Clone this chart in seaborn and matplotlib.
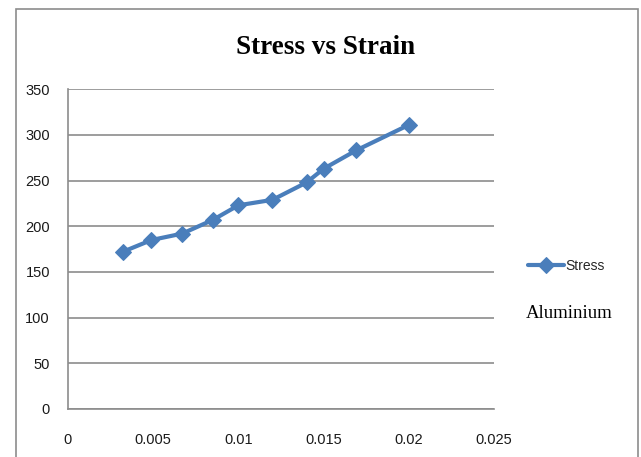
import numpy as np
import pandas as pd
import matplotlib
matplotlib.use("Agg")
import matplotlib.pyplot as plt
import seaborn as sns
from matplotlib.patches import Rectangle

# values
strain = [0.0032, 0.0049, 0.0067, 0.0085, 0.0100, 0.0120, 0.0140, 0.0150, 0.0169, 0.0200]
stress = [172, 185, 192, 207, 223, 229, 248, 263, 283, 311]
x_ticks = [0, 0.005, 0.01, 0.015, 0.02, 0.025]
x_tick_labels = ["0", "0.005", "0.01", "0.015", "0.02", "0.025"]
y_ticks = [0, 50, 100, 150, 200, 250, 300, 350]

def main():
    sns.set_style("white")
    plt.rcParams["font.family"] = ["Liberation Sans", "DejaVu Sans"]

    df = pd.DataFrame({"Strain": strain, "Stress": stress})

    W, H = 641, 457
    fig = plt.figure(figsize=(W / 100, H / 100), dpi=100)
    ax = fig.add_axes([68 / W, 1 - 409 / H, (494 - 68) / W, (409 - 89.3) / H])

    blue = "#4A7EBB"
    sns.lineplot(data=df, x="Strain", y="Stress", ax=ax, color=blue, linewidth=3,
                 marker="D", markersize=8.5, markeredgecolor=blue, label="Stress",
                 legend=False)

    ax.set_xlim(0, 0.025)
    ax.set_ylim(0, 350)
    ax.set_xticks(x_ticks)
    ax.set_xticklabels(x_tick_labels)
    ax.set_yticks(y_ticks)
    ax.set_xlabel("")
    ax.set_ylabel("")

    grid_col = "#8C8C8C"
    ax.grid(axis="y", color=grid_col, linewidth=1.2)
    ax.set_axisbelow(True)
    for side in ["top", "right"]:
        ax.spines[side].set_visible(False)
    for side in ["left", "bottom"]:
        ax.spines[side].set_color(grid_col)
        ax.spines[side].set_linewidth(1.2)
    ax.tick_params(axis="both", direction="out", length=5, width=1.2, color=grid_col,
                   labelsize=10.5, labelcolor="#1a1a1a")
    ax.tick_params(axis="y", pad=8)
    ax.tick_params(axis="x", pad=12)

    # chart title
    fig.text(326 / W, 1 - 47 / H, "Stress vs Strain", ha="center", va="center",
             fontsize=19.5, fontweight="bold", color="black",
             family=["Liberation Serif", "DejaVu Serif"])

    # legend
    leg = ax.legend(loc="center left", bbox_to_anchor=(521 / W, 1 - 266 / H),
                    bbox_transform=fig.transFigure, frameon=False, fontsize=10,
                    handlelength=2.6, handletextpad=0.1, borderpad=0)
    fig.text(526 / W, 1 - 313 / H, "Aluminium", ha="left", va="center",
             fontsize=13.5, color="black", family=["Liberation Serif", "DejaVu Serif"])

    # outer chart frame
    fig.patches.append(Rectangle((15.5 / W, -0.05), (637.7 - 15.5) / W, 1.05 - 9.5 / H,
                                 transform=fig.transFigure, fill=False,
                                 edgecolor="#8C8C8C", linewidth=1.2))

    fig.savefig("out.png", dpi=100)
    plt.close(fig)

if __name__ == "__main__":
    main()
